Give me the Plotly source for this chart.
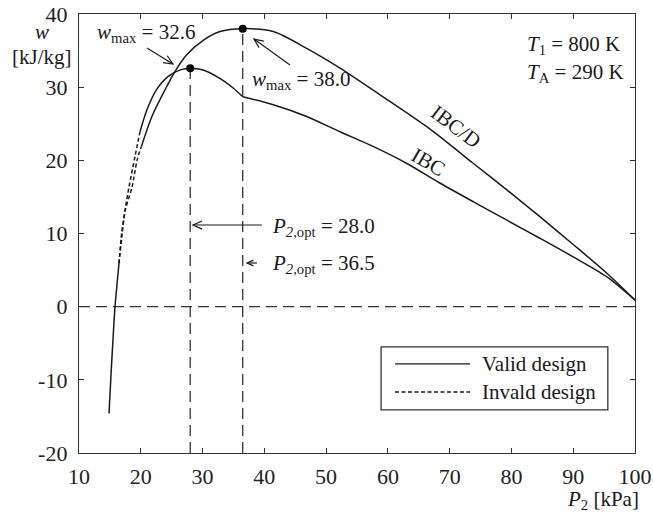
import math
import plotly.graph_objects as go

# ---------------- data ----------------
common_x = [14.86, 15.2, 15.5, 15.83, 16.2, 16.47]
common_w = [-14.6, -9.0, -4.5, 0.0, 3.5, 5.9]

ibc_dash_x = [16.47, 16.9, 17.45, 18.1, 19.06, 19.87]
ibc_dash_w = [5.9, 10.0, 13.2, 16.4, 20.5, 23.9]
ibcd_dash_x = [16.47, 17.0, 17.5, 18.6, 19.4, 20.1]
ibcd_dash_w = [5.9, 10.0, 13.2, 16.4, 20.0, 21.9]

ibc_x = [19.87, 21.0, 22.5, 24.5, 26.5, 28.0, 30.1, 32.8, 35.0, 36.5,
         41.45, 46.85, 52.25, 57.6, 63.0, 68.4, 73.8, 79.2, 84.6, 90.0, 95.4, 100.0]
ibc_w = [23.9, 26.9, 29.6, 31.5, 32.4, 32.6, 32.35, 31.2, 29.85, 28.7,
         27.6, 26.0, 23.9, 21.9, 19.6, 16.9, 14.35, 11.85, 9.35, 6.8, 4.1, 0.9]
ibc_kink = 36.5

ibcd_x = [20.1, 21.8, 23.9, 25.5, 27.4, 30.1, 32.8, 36.5, 41.45, 46.85,
          52.25, 57.6, 66.3, 73.8, 79.2, 84.6, 90.0, 95.4, 100.0]
ibcd_w = [21.9, 26.0, 29.6, 32.1, 34.4, 36.4, 37.6, 38.0, 37.6, 35.3,
          32.6, 29.6, 24.6, 19.6, 16.0, 12.3, 8.5, 4.6, 0.9]

opt_p = [28.0, 36.5]
opt_w = [32.6, 38.0]

x_range = [10, 100]
y_range = [-20, 40]
x_ticks = [10, 20, 30, 40, 50, 60, 70, 80, 90, 100]
y_ticks = [-20, -10, 0, 10, 20, 30, 40]
y_ticktext = ["-20", "-10", "0", "10", "20", "30", "40"]

FONT = "Liberation Serif, Times New Roman, serif"
FS = 21
INK = "#1a1a1a"

W, H = 653, 522
ML, MR, MT, MB = 79, 18, 14, 69
PW, PH = W - ML - MR, H - MT - MB
SX = PW / (x_range[1] - x_range[0])
SY = PH / (y_range[1] - y_range[0])

def to_px(x, y):
    return ML + (x - x_range[0]) * SX, MT + (y_range[1] - y) * SY

def to_data(px, py):
    return x_range[0] + (px - ML) / SX, y_range[1] - (py - MT) / SY

fig = go.Figure()

ref_line = dict(color="#333333", width=1.3, dash="11px,6px")
fig.add_trace(go.Scatter(x=x_range, y=[0, 0], mode="lines", line=ref_line,
                         showlegend=False, hoverinfo="skip"))
for p, w in zip(opt_p, opt_w):
    fig.add_trace(go.Scatter(x=[p, p], y=[y_range[0], w], mode="lines", line=ref_line,
                             showlegend=False, hoverinfo="skip"))

solid = dict(color=INK, width=1.5, shape="spline", smoothing=0.8)
dashed = dict(color=INK, width=1.5, dash="4px,2.5px", shape="spline", smoothing=0.8)

fig.add_trace(go.Scatter(x=common_x, y=common_w, mode="lines", line=solid, showlegend=False))
fig.add_trace(go.Scatter(x=ibc_dash_x, y=ibc_dash_w, mode="lines", line=dashed, showlegend=False))
fig.add_trace(go.Scatter(x=ibcd_dash_x, y=ibcd_dash_w, mode="lines", line=dashed, showlegend=False))

k = ibc_x.index(ibc_kink)
fig.add_trace(go.Scatter(x=ibc_x[:k + 1], y=ibc_w[:k + 1], mode="lines", line=solid,
                         name="IBC", showlegend=False))
fig.add_trace(go.Scatter(x=ibc_x[k:], y=ibc_w[k:], mode="lines", line=solid,
                         name="IBC", showlegend=False))
fig.add_trace(go.Scatter(x=ibcd_x, y=ibcd_w, mode="lines", line=solid, name="IBC/D",
                         showlegend=False))
fig.add_trace(go.Scatter(x=opt_p, y=opt_w, mode="markers",
                         marker=dict(color="black", size=8), showlegend=False))

# manual legend (box, line samples)
fig.add_shape(type="rect", xref="x", yref="y", x0=58.9, x1=95.6, y0=-14.1, y1=-5.5,
              line=dict(color="#333333", width=1.3), fillcolor="white", layer="above")
fig.add_shape(type="line", xref="x", yref="y", x0=61.15, x1=73.3, y0=-7.83, y1=-7.83,
              line=dict(color=INK, width=1.3), layer="above")
fig.add_shape(type="line", xref="x", yref="y", x0=61.15, x1=73.3, y0=-11.66, y1=-11.66,
              line=dict(color=INK, width=1.3, dash="4px,2.5px"), layer="above")

ann = []
def txt(x, y, t, xanchor="left", yanchor="middle", angle=0, xref="x", yref="y", size=FS):
    ann.append(dict(x=x, y=y, xref=xref, yref=yref, text=t, showarrow=False,
                    xanchor=xanchor, yanchor=yanchor, textangle=angle,
                    font=dict(family=FONT, size=size, color=INK)))

def arrow(hx, hy, tx, ty, head=10, ang=24):
    fig.add_shape(type="line", xref="x", yref="y", x0=tx, y0=ty, x1=hx, y1=hy,
                  line=dict(color=INK, width=1.2))
    hpx, hpy = to_px(hx, hy)
    tpx, tpy = to_px(tx, ty)
    d = math.hypot(tpx - hpx, tpy - hpy)
    ux, uy = (tpx - hpx) / d, (tpy - hpy) / d
    pts = []
    for s in (-1, 1):
        a = math.radians(ang) * s
        rx = ux * math.cos(a) - uy * math.sin(a)
        ry = ux * math.sin(a) + uy * math.cos(a)
        pts.append(to_data(hpx + rx * head, hpy + ry * head))
    path = "M {},{} L {},{} L {},{}".format(pts[0][0], pts[0][1], hx, hy, pts[1][0], pts[1][1])
    fig.add_shape(type="path", xref="x", yref="y", path=path,
                  line=dict(color=INK, width=1.2))

txt(74.9, -7.83, "Valid design")
txt(74.9, -11.66, "Invald design")

txt(12.6, 37.4, "<i>w</i><sub>max</sub> = 32.6")
arrow(25.2, 33.17, 21.0, 35.35)
txt(37.7, 31.0, "<i>w</i><sub>max</sub> = 38.0")
arrow(38.33, 36.58, 44.15, 33.03)
txt(40.9, 10.9, "<i>P</i><sub><i>2,</i>opt</sub> = 28.0")
arrow(28.45, 11.16, 39.6, 11.16)
txt(40.9, 5.8, "<i>P</i><sub><i>2,</i>opt</sub> = 36.5")
arrow(37.2, 5.97, 38.8, 5.97, head=7)
txt(82.2, 35.8, "<i>T</i><sub>1</sub> = 800 K")
txt(82.2, 31.9, "<i>T</i><sub>A</sub> = 290 K")
txt(71.1, 24.6, "IBC/D", xanchor="center", angle=37)
txt(66.5, 19.8, "IBC", xanchor="center", angle=30)

# axis titles
txt(-0.067, 0.959, "<i>w</i>", xanchor="center", xref="paper", yref="paper")
txt(-0.067, 0.903, "[kJ/kg]", xanchor="center", xref="paper", yref="paper")
txt(1.011, -0.108, "<i>P</i><sub>2</sub> [kPa]", xanchor="right", xref="paper", yref="paper")

axis_common = dict(showgrid=False, zeroline=False, showline=True, linecolor="#333333",
                   linewidth=1.3, mirror="ticks", ticks="inside", ticklen=5,
                   tickcolor="#333333", tickwidth=1.1, automargin=False,
                   tickfont=dict(family=FONT, size=22, color="#222222"))

fig.update_layout(
    width=W, height=H,
    margin=dict(l=ML, r=MR, t=MT, b=MB, autoexpand=False),
    paper_bgcolor="white", plot_bgcolor="white",
    xaxis=dict(range=x_range, tickvals=x_ticks, ticklabelstandoff=3, **axis_common),
    yaxis=dict(range=y_range, tickvals=y_ticks, ticktext=y_ticktext,
               ticklabelstandoff=6, **axis_common),
    annotations=ann,
    showlegend=False,
)

fig.write_html("out.html", config={"displayModeBar": False},
               post_script="document.body.style.margin='0';")
